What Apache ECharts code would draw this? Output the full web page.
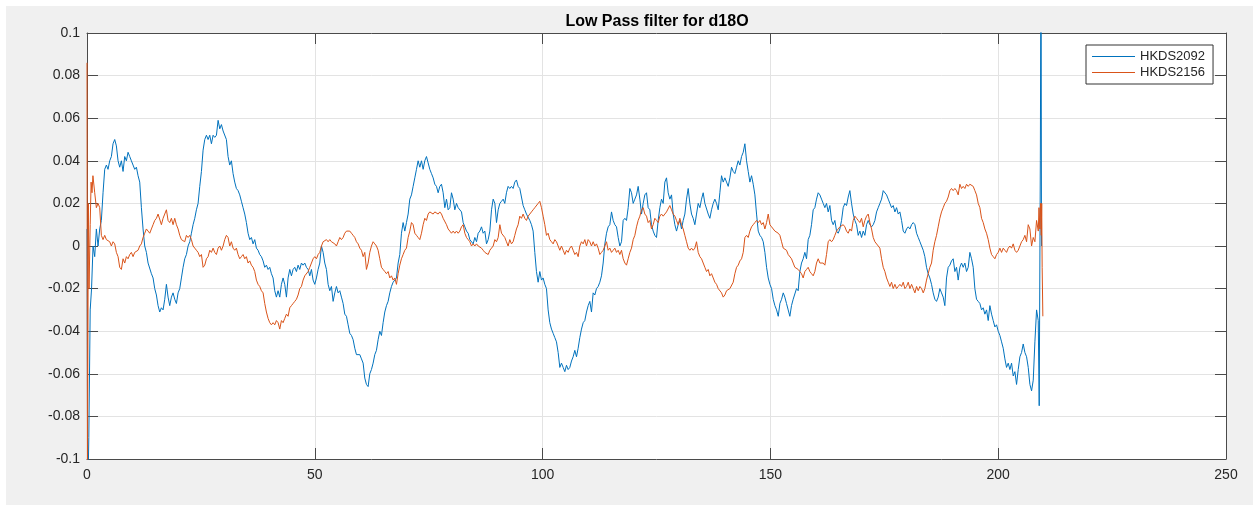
<!DOCTYPE html>
<html>
<head>
<meta charset="utf-8">
<script src="https://cdn.jsdelivr.net/npm/echarts@6/dist/echarts.min.js"></script>
<style>
html,body{margin:0;padding:0;background:#fff;}
#chart{width:1259px;height:507px;}
</style>
</head>
<body>
<div id="chart"></div>
<script>
// ---- data ----
const xTicks = [0, 50, 100, 150, 200, 250];
const yTicks = [-0.1, -0.08, -0.06, -0.04, -0.02, 0, 0.02, 0.04, 0.06, 0.08, 0.1];
const seriesNames = ['HKDS2092', 'HKDS2156'];
const STEP = 0.366;
const segStarts = [30.23, 60.97, 91.70, 122.44, 153.17, 183.90];

// HKDS2092
const blueHead = [[0,0.008],[0.15,-0.12],[0.4,-0.09],[0.7,-0.03],[1.0,-0.02]];
const blueAStart = 1.325;
const blueA = [0.0,-0.005,0.008,0.0,0.008,0.012,0.025,0.036,0.038,0.036,0.04,0.042,0.048,0.05,0.047,0.04,0.037,0.04,0.035,0.042,0.04,0.044,0.042,0.04,0.038,0.036,0.037,0.033,0.03,0.018,0.008,0.0,-0.003,-0.008,-0.008,-0.013,-0.015,-0.02,-0.023,-0.028,-0.031,-0.029,-0.03,-0.025,-0.018,-0.024,-0.028,-0.024,-0.022,-0.025,-0.027,-0.022,-0.02,-0.015,-0.01,-0.006,-0.004,0.0,0.002,0.006,0.01,0.013,0.017,0.02,0.028,0.035,0.045,0.05,0.052,0.05,0.052,0.048,0.052,0.051,0.052,0.059,0.055,0.057,0.054];
const blueB = [0.054,0.05,0.042,0.038,0.04,0.034,0.03,0.027,0.026,0.024,0.021,0.018,0.015,0.011,0.006,0.003,0.004,0.001,0.003,-0.001,-0.002,-0.004,-0.005,-0.007,-0.01,-0.009,-0.011,-0.01,-0.013,-0.015,-0.021,-0.024,-0.021,-0.024,-0.018,-0.015,-0.018,-0.024,-0.015,-0.011,-0.014,-0.011,-0.01,-0.012,-0.009,-0.011,-0.008,-0.009,-0.008,-0.01,-0.011,-0.014,-0.011,-0.016,-0.018,-0.015,-0.011,-0.008,0.0,-0.003,-0.008,-0.011,-0.018,-0.021,-0.019,-0.026,-0.022,-0.019,-0.022,-0.021,-0.024,-0.027,-0.032,-0.033,-0.037,-0.041,-0.042,-0.044,-0.048,-0.051,-0.051,-0.051,-0.053,-0.055];
const blueC = [-0.062,-0.065,-0.066,-0.06,-0.058,-0.055,-0.051,-0.049,-0.044,-0.04,-0.042,-0.036,-0.031,-0.028,-0.026,-0.022,-0.019,-0.017,-0.016,-0.015,-0.008,-0.004,0.006,0.011,0.007,0.011,0.015,0.022,0.024,0.028,0.032,0.036,0.04,0.037,0.04,0.036,0.04,0.042,0.039,0.036,0.034,0.032,0.029,0.028,0.025,0.028,0.029,0.025,0.018,0.022,0.017,0.018,0.025,0.022,0.017,0.02,0.018,0.018,0.016,0.011,0.009,0.007,0.006,0.003,0.003,0.001,0.004,0.002,0.006,0.007,0.009,0.006,0.007,0.001,0.003,0.007,0.017,0.022,0.02,0.011,0.017,0.02,0.021,0.022];
const blueD = [0.02,0.025,0.028,0.027,0.028,0.027,0.03,0.031,0.028,0.027,0.023,0.019,0.017,0.015,0.015,0.012,0.01,0.007,-0.003,-0.012,-0.017,-0.012,-0.016,-0.015,-0.018,-0.02,-0.03,-0.036,-0.039,-0.041,-0.043,-0.045,-0.05,-0.057,-0.055,-0.057,-0.059,-0.056,-0.058,-0.057,-0.054,-0.052,-0.049,-0.052,-0.048,-0.043,-0.039,-0.036,-0.035,-0.031,-0.028,-0.026,-0.031,-0.022,-0.023,-0.02,-0.019,-0.017,-0.014,-0.008,0.001,0.006,0.009,0.01,0.016,0.012,0.01,0.009,0.004,0.0,0.002,0.012,0.013,0.012,0.018,0.027,0.025,0.02,0.022,0.024,0.028,0.022,0.015,0.02];
const blueE = [0.024,0.025,0.018,0.017,0.01,0.007,0.005,0.004,0.012,0.018,0.022,0.02,0.03,0.032,0.025,0.022,0.024,0.015,0.01,0.007,0.01,0.012,0.008,0.012,0.015,0.022,0.027,0.02,0.015,0.013,0.01,0.015,0.02,0.018,0.022,0.025,0.02,0.02,0.015,0.013,0.017,0.02,0.022,0.02,0.017,0.025,0.033,0.03,0.032,0.03,0.028,0.032,0.037,0.035,0.034,0.037,0.04,0.038,0.042,0.044,0.048,0.04,0.035,0.03,0.033,0.029,0.024,0.015,0.007,0.005,0.004,0.002,-0.003,-0.01,-0.015,-0.018,-0.02,-0.025,-0.028,-0.03,-0.033,-0.027,-0.025,-0.022];
const blueF = [-0.024,-0.027,-0.03,-0.033,-0.028,-0.025,-0.025,-0.02,-0.021,-0.012,-0.008,-0.006,-0.003,-0.006,0.003,0.005,0.01,0.017,0.018,0.022,0.025,0.024,0.022,0.02,0.018,0.02,0.016,0.019,0.012,0.01,0.012,0.007,0.006,0.008,0.012,0.018,0.02,0.019,0.023,0.026,0.02,0.015,0.012,0.01,0.005,0.007,0.004,0.007,0.005,0.01,0.012,0.01,0.009,0.01,0.012,0.016,0.018,0.02,0.022,0.026,0.026,0.024,0.022,0.02,0.018,0.019,0.016,0.018,0.015,0.016,0.012,0.007,0.006,0.008,0.009,0.008,0.01,0.011,0.01,0.006,0.004,0.002,0.0,-0.002];
const blueG = [-0.005,-0.01,-0.013,-0.015,-0.018,-0.022,-0.025,-0.026,-0.024,-0.02,-0.022,-0.024,-0.028,-0.015,-0.01,-0.009,-0.007,-0.006,-0.012,-0.01,-0.016,-0.01,-0.008,-0.01,-0.008,-0.012,-0.01,-0.003,-0.006,-0.01,-0.02,-0.025,-0.026,-0.027,-0.03,-0.029,-0.032,-0.03,-0.035,-0.028,-0.032,-0.035,-0.038,-0.037,-0.04,-0.042,-0.045,-0.048,-0.053,-0.057,-0.055,-0.058,-0.055,-0.061,-0.059,-0.065,-0.058,-0.052,-0.05,-0.046,-0.05,-0.052,-0.057,-0.065,-0.068,-0.063,-0.045,-0.03,-0.035];
const blueTail = [[209.0,-0.075],[209.25,0.04],[209.4,0.15],[209.5,0.0]];

// HKDS2156
const orangeHead = [[0,0.086],[0.1,-0.11],[0.3,0.02],[0.45,-0.02],[0.7,0.01],[0.9,0.03],[1.1,0.025],[1.3,0.033]];
const orangeAStart = 1.691;
const orangeA = [0.025,0.018,0.02,0.018,0.005,0.003,0.005,0.003,0.003,0.002,0.0,0.002,0.001,-0.003,-0.005,-0.01,-0.011,-0.006,-0.008,-0.005,-0.006,-0.004,-0.003,-0.005,-0.003,-0.003,-0.002,0.0,0.001,0.004,0.006,0.008,0.007,0.006,0.008,0.01,0.012,0.013,0.015,0.015,0.01,0.013,0.015,0.017,0.012,0.011,0.013,0.01,0.013,0.01,0.008,0.005,0.003,0.003,0.002,0.005,0.004,0.005,0.003,0.0,-0.001,-0.002,-0.003,-0.005,-0.004,-0.01,-0.009,-0.006,-0.005,-0.002,-0.003,-0.001,-0.003,-0.004,-0.001,0.0,-0.002,0.0];
const orangeB = [0.003,0.005,0.004,0.0,0.002,-0.001,-0.002,-0.001,-0.004,-0.006,-0.005,-0.004,-0.006,-0.005,-0.008,-0.007,-0.009,-0.01,-0.012,-0.016,-0.018,-0.019,-0.021,-0.022,-0.027,-0.031,-0.034,-0.036,-0.037,-0.036,-0.037,-0.035,-0.036,-0.039,-0.035,-0.036,-0.034,-0.032,-0.033,-0.029,-0.028,-0.027,-0.026,-0.025,-0.023,-0.02,-0.019,-0.016,-0.014,-0.014,-0.012,-0.01,-0.008,-0.006,-0.005,-0.006,-0.004,-0.003,0.0,0.002,0.002,0.003,0.002,0.003,0.002,0.002,0.001,0.0,0.002,0.004,0.003,0.004,0.006,0.007,0.007,0.007,0.006,0.005,0.004,0.002,0.001,-0.001,-0.002,-0.005];
const orangeC = [-0.003,-0.011,-0.008,-0.003,0.0,0.002,0.001,0.0,-0.002,-0.006,-0.01,-0.011,-0.012,-0.013,-0.012,-0.015,-0.014,-0.016,-0.015,-0.018,-0.013,-0.009,-0.006,-0.004,-0.002,-0.001,0.004,0.007,0.011,0.01,0.006,0.005,0.004,0.003,0.006,0.01,0.013,0.012,0.015,0.016,0.016,0.015,0.016,0.016,0.015,0.016,0.015,0.013,0.013,0.01,0.008,0.007,0.006,0.007,0.006,0.007,0.006,0.007,0.009,0.01,0.006,0.004,0.003,0.002,0.0,0.001,0.0,0.001,0.0,0.0,-0.001,-0.002,-0.003,-0.003,-0.004,-0.002,-0.001,0.0,0.003,0.002,0.004,0.01,0.006,0.006];
const orangeD = [0.004,0.002,0.0,0.003,0.001,0.002,0.005,0.008,0.01,0.014,0.013,0.015,0.013,0.012,0.014,0.015,0.016,0.017,0.018,0.018,0.02,0.021,0.018,0.014,0.01,0.005,0.006,0.003,0.002,0.001,0.003,0.002,0.0,-0.002,0.0,-0.002,-0.004,-0.002,-0.003,-0.001,0.0,-0.002,-0.004,-0.003,-0.005,0.0,0.002,0.001,0.003,0.0,0.003,0.002,0.0,0.002,0.0,0.001,-0.001,-0.004,-0.003,-0.002,0.0,0.002,-0.002,-0.001,-0.003,-0.002,-0.001,-0.003,-0.002,-0.004,-0.002,-0.006,-0.008,-0.009,-0.006,-0.003,-0.001,0.003,0.005,0.009,0.012,0.014,0.017,0.018];
const orangeE = [0.015,0.014,0.011,0.012,0.008,0.01,0.013,0.012,0.011,0.014,0.015,0.014,0.015,0.016,0.016,0.019,0.017,0.015,0.014,0.012,0.01,0.013,0.01,0.008,0.005,0.002,-0.001,-0.002,-0.001,-0.002,-0.001,0.002,-0.003,-0.005,-0.006,-0.006,-0.01,-0.012,-0.011,-0.014,-0.013,-0.015,-0.017,-0.018,-0.02,-0.02,-0.022,-0.024,-0.023,-0.021,-0.021,-0.02,-0.02,-0.017,-0.013,-0.01,-0.009,-0.007,-0.006,-0.003,0.004,0.005,0.004,0.007,0.009,0.01,0.011,0.012,0.011,0.012,0.01,0.011,0.008,0.011,0.015,0.01,0.009,0.008,0.007,0.007,0.006,0.005,0.002,-0.001];
const orangeF = [-0.001,-0.002,-0.004,-0.004,-0.006,-0.008,-0.01,-0.01,-0.011,-0.012,-0.013,-0.015,-0.012,-0.011,-0.01,-0.012,-0.013,-0.014,-0.012,-0.008,-0.006,-0.008,-0.008,-0.008,-0.009,-0.004,0.002,0.003,0.002,0.003,0.005,0.007,0.008,0.009,0.009,0.01,0.009,0.007,0.006,0.008,0.007,0.012,0.014,0.013,0.012,0.011,0.013,0.009,0.012,0.014,0.015,0.011,0.008,0.004,0.002,0.002,0.0,-0.001,-0.006,-0.01,-0.012,-0.015,-0.017,-0.019,-0.017,-0.02,-0.018,-0.02,-0.019,-0.018,-0.019,-0.017,-0.02,-0.019,-0.017,-0.02,-0.018,-0.02,-0.022,-0.019,-0.021,-0.019,-0.02,-0.022];
const orangeG = [-0.02,-0.016,-0.013,-0.01,-0.008,-0.002,0.002,0.005,0.009,0.013,0.016,0.018,0.02,0.021,0.023,0.026,0.027,0.026,0.027,0.026,0.024,0.029,0.027,0.028,0.027,0.029,0.028,0.029,0.029,0.028,0.026,0.024,0.02,0.018,0.013,0.011,0.008,0.006,0.003,-0.001,-0.004,-0.005,-0.006,-0.004,-0.003,-0.001,-0.003,-0.001,-0.002,-0.003,-0.001,0.0,-0.001,0.001,-0.002,-0.003,-0.002,0.0,0.002,0.003,0.005,0.002,0.01,0.008,0.0,0.004,0.002,0.012];
const orangeTail = [[208.8,0.007],[208.95,0.018],[209.15,0.008],[209.3,0.02],[209.45,0.005],[209.55,0.02],[209.65,-0.01],[209.8,-0.033]];

// ---- build [x, y] pairs ----
function seg(start, vals) { return vals.map((v, i) => [+(start + i * STEP).toFixed(3), v]); }
function build(head, aStart, a, rest, tail) {
  let out = head.slice().concat(seg(aStart, a));
  rest.forEach((vals, k) => { out = out.concat(seg(segStarts[k], vals)); });
  return out.concat(tail);
}
const blueData = build(blueHead, blueAStart, blueA, [blueB, blueC, blueD, blueE, blueF, blueG], blueTail);
const orangeData = build(orangeHead, orangeAStart, orangeA, [orangeB, orangeC, orangeD, orangeE, orangeF, orangeG], orangeTail);

const FONT = "'Liberation Sans', Arial, Helvetica, sans-serif";
const AX = '#4a4a4a';
const TXT = '#262626';
const GRIDC = '#e3e3e3';

const chart = echarts.init(document.getElementById('chart'));
const common = { min: xTicks[0], max: xTicks[xTicks.length - 1], interval: 50 };
const ycommon = { min: yTicks[0], max: yTicks[yTicks.length - 1], interval: 0.02 };
const line = { show: true, onZero: false, lineStyle: { color: AX, width: 1 } };
const tick = { show: true, inside: true, length: 11, lineStyle: { color: AX } };
chart.setOption({
  animation: false,
  backgroundColor: '#fff',
  graphic: [
    { type: 'rect', z: -10, silent: true, shape: { x: 6, y: 6, width: 1247, height: 499 }, style: { fill: '#f0f0f0' } },
    { type: 'text', z: 10, x: 657, y: 22, style: { text: 'Low Pass filter for d18O', font: 'bold 16px ' + FONT, fill: '#000', textAlign: 'center', textVerticalAlign: 'middle' } }
  ],
  grid: { left: 87, top: 33, right: 33, bottom: 48, show: true, backgroundColor: '#fff', borderWidth: 0 },
  legend: {
    orient: 'vertical', left: 1086, top: 45,
    padding: [5, 8, 5, 6], itemGap: 3, itemWidth: 43, itemHeight: 14,
    backgroundColor: '#fff', borderColor: '#333', borderWidth: 1, borderRadius: 0,
    icon: 'path://M0,0 L43,0 L43,1 L0,1 Z',
    textStyle: { fontFamily: FONT, fontSize: 13, color: TXT },
    data: seriesNames
  },
  xAxis: [
    Object.assign({ type: 'value', position: 'bottom', axisLine: line, axisTick: tick,
      axisLabel: { fontFamily: FONT, fontSize: 14, color: TXT, margin: 9 },
      splitLine: { show: true, lineStyle: { color: GRIDC, width: 1 } } }, common),
    Object.assign({ type: 'value', position: 'top', axisLine: line, axisTick: tick,
      axisLabel: { show: false }, splitLine: { show: false } }, common)
  ],
  yAxis: [
    Object.assign({ type: 'value', position: 'left', axisLine: line, axisTick: tick,
      axisLabel: { fontFamily: FONT, fontSize: 14, color: TXT, margin: 7,
        formatter: v => String(+v.toFixed(2)) },
      splitLine: { show: true, lineStyle: { color: GRIDC, width: 1 } } }, ycommon),
    Object.assign({ type: 'value', position: 'right', axisLine: line, axisTick: tick,
      axisLabel: { show: false }, splitLine: { show: false } }, ycommon)
  ],
  series: [
    { name: seriesNames[0], type: 'line', data: blueData, symbol: 'none', clip: true,
      xAxisIndex: 0, yAxisIndex: 0, color: '#0072BD', lineStyle: { width: 1, color: '#0072BD' } },
    { name: seriesNames[1], type: 'line', data: orangeData, symbol: 'none', clip: true,
      xAxisIndex: 0, yAxisIndex: 0, color: '#D95319', lineStyle: { width: 1, color: '#D95319' } }
  ]
});
</script>
</body>
</html>
